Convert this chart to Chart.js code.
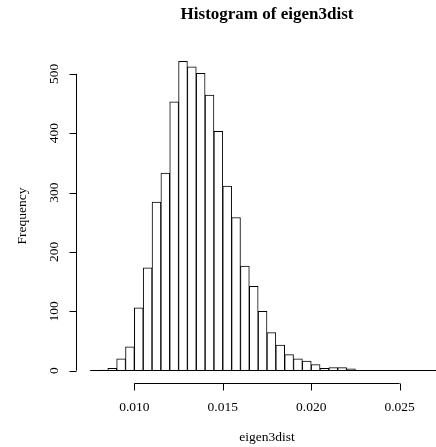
<!DOCTYPE html>
<html>
<head>
<meta charset="utf-8">
<title>Histogram of eigen3dist</title>
<script src="https://cdn.jsdelivr.net/npm/chart.js@4.4.1/dist/chart.umd.min.js"></script>
<style>
  html, body { margin: 0; padding: 0; overflow: hidden; background: #ffffff; }
  #wrap { width: 480px; height: 447px; }
</style>
</head>
<body>
<div id="wrap"><canvas id="hist" width="480" height="447"></canvas></div>
<script>
// histogram bins of eigen3dist (left edges, width 0.0005)
const binStarts = [
  0.0075, 0.0080, 0.0085, 0.0090, 0.0095, 0.0100, 0.0105, 0.0110, 0.0115, 0.0120,
  0.0125, 0.0130, 0.0135, 0.0140, 0.0145, 0.0150, 0.0155, 0.0160, 0.0165, 0.0170,
  0.0175, 0.0180, 0.0185, 0.0190, 0.0195, 0.0200, 0.0205, 0.0210, 0.0215, 0.0220,
  0.0225, 0.0230, 0.0235, 0.0240, 0.0245, 0.0250, 0.0255, 0.0260, 0.0265, 0.0270
];
const binWidth = 0.0005;
const counts = [
  0, 1, 4, 20, 40, 106, 173, 284, 333, 453,
  521, 512, 501, 464, 403, 311, 258, 176, 142, 100,
  64, 43, 27, 20, 16, 10, 4, 5, 5, 3,
  0, 0, 0, 0, 0, 0, 0, 0, 0, 1
];
const xTicks = [0.010, 0.015, 0.020, 0.025];
const xTickLabels = ['0.010', '0.015', '0.020', '0.025'];
const yTicks = [0, 100, 200, 300, 400, 500];
const yTickLabels = ['0', '100', '200', '300', '400', '500'];

const serif = '"Liberation Serif", "DejaVu Serif", serif';

// R style limits: data range plus 4% each side
const xLo = binStarts[0];
const xHi = binStarts[binStarts.length - 1] + binWidth;
const yHi = Math.max(...counts);
const xPad = (xHi - xLo) * 0.04;
const yPad = yHi * 0.04;

const points = binStarts.map((b, i) => ({ x: b + binWidth / 2, y: counts[i] }));

// axes, labels and titles drawn the way base R graphics does
const rAxes = {
    id: 'rAxes',
    beforeDraw(chart) {
        const ctx = chart.ctx;
        ctx.save();
        ctx.fillStyle = '#ffffff';
        ctx.fillRect(0, 0, chart.width, chart.height);
        ctx.restore();
    },
    afterDraw(chart) {
        const ctx = chart.ctx;
        const area = chart.chartArea;
        const xs = chart.scales.x;
        const ys = chart.scales.y;
        const tick = 7;

        ctx.save();
        ctx.strokeStyle = '#000000';
        ctx.fillStyle = '#000000';
        ctx.lineWidth = 1;

        // baseline under the empty bins
        const y0 = Math.round(ys.getPixelForValue(0)) - 0.5;
        ctx.beginPath();
        ctx.moveTo(xs.getPixelForValue(xLo), y0);
        ctx.lineTo(xs.getPixelForValue(xHi), y0);
        ctx.stroke();

        // x axis
        const ax = Math.round(area.bottom) + 0.5;
        ctx.beginPath();
        ctx.moveTo(xs.getPixelForValue(xTicks[0]), ax);
        ctx.lineTo(xs.getPixelForValue(xTicks[xTicks.length - 1]), ax);
        xTicks.forEach(v => {
            const px = Math.round(xs.getPixelForValue(v)) + 0.5;
            ctx.moveTo(px, ax);
            ctx.lineTo(px, ax + tick);
        });
        ctx.stroke();

        ctx.font = '13.5px ' + serif;
        ctx.textAlign = 'center';
        ctx.textBaseline = 'middle';
        xTicks.forEach((v, i) => {
            ctx.fillText(xTickLabels[i], xs.getPixelForValue(v), ax + 24);
        });

        // y axis
        const ay = Math.round(area.left) + 0.5;
        ctx.beginPath();
        ctx.moveTo(ay, ys.getPixelForValue(yTicks[0]));
        ctx.lineTo(ay, ys.getPixelForValue(yTicks[yTicks.length - 1]));
        yTicks.forEach(v => {
            const py = Math.round(ys.getPixelForValue(v)) + 0.5;
            ctx.moveTo(ay, py);
            ctx.lineTo(ay - tick, py);
        });
        ctx.stroke();

        yTicks.forEach((v, i) => {
            ctx.save();
            ctx.translate(ay - 22, ys.getPixelForValue(v));
            ctx.rotate(-Math.PI / 2);
            ctx.fillText(yTickLabels[i], 0, 0);
            ctx.restore();
        });

        // titles centred on the plot region
        const cx = (area.left + area.right) / 2;
        const cy = (area.top + area.bottom) / 2;
        ctx.fillText('eigen3dist', cx, 437);

        ctx.save();
        ctx.translate(22, cy);
        ctx.rotate(-Math.PI / 2);
        ctx.fillText('Frequency', 0, 0);
        ctx.restore();

        ctx.font = 'bold 17px ' + serif;
        ctx.fillText('Histogram of eigen3dist', cx, 15);

        ctx.restore();
    }
};

new Chart(document.getElementById('hist'), {
    type: 'bar',
    data: {
        datasets: [{
            label: 'Frequency',
            data: points,
            backgroundColor: '#ffffff',
            borderColor: '#000000',
            borderWidth: 1,
            borderSkipped: 'start',
            barPercentage: 1,
            categoryPercentage: 1
        }]
    },
    options: {
        responsive: false,
        animation: false,
        devicePixelRatio: 1,
        layout: {
            padding: { left: 76, top: 49, right: 22, bottom: 64 }
        },
        plugins: {
            legend: { display: false },
            title: { display: false },
            tooltip: { enabled: false }
        },
        scales: {
            x: {
                type: 'linear',
                display: false,
                min: xLo - xPad,
                max: xHi + xPad,
                offset: false,
                // hidden ticks sit on the bin edges so a bar spans one bin
                afterBuildTicks: scale => {
                    scale.ticks = binStarts.map(v => ({ value: v }));
                }
            },
            y: {
                display: false,
                min: -yPad,
                max: yHi + yPad
            }
        }
    },
    plugins: [rAxes]
});
</script>
</body>
</html>
